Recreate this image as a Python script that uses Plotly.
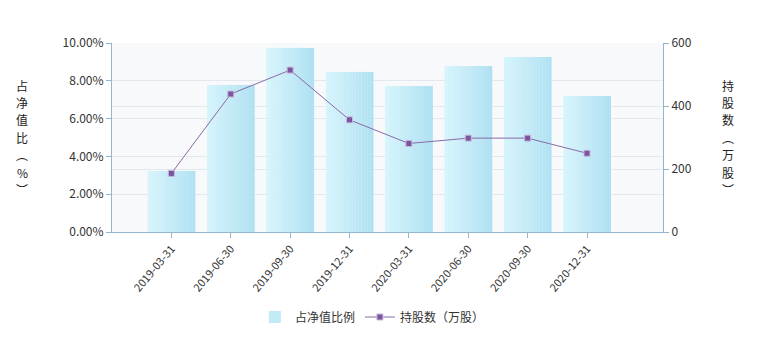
import plotly.graph_objects as go

categories = ["2019-03-31", "2019-06-30", "2019-09-30", "2019-12-31",
              "2020-03-31", "2020-06-30", "2020-09-30", "2020-12-31"]
pct_values = [3.23, 7.78, 9.74, 8.47, 7.72, 8.78, 9.26, 7.20]
shares_values = [186, 438, 514, 356, 281, 298, 298, 250]
left_ticks = [0, 2, 4, 6, 8, 10]
left_tick_labels = ["0.00%", "2.00%", "4.00%", "6.00%", "8.00%", "10.00%"]
right_ticks = [0, 200, 400, 600]
left_title = ["占", "净", "值", "比", "︵", "%", "︶"]
right_title = ["持", "股", "数", "︵", "万", "股", "︶"]

x_idx = list(range(len(categories)))

fig = go.Figure()

# Gradient bars built from vertical slices
N = 16
bar_w = 0.8
left_c = (214, 244, 252)
right_c = (176, 225, 242)
for i in range(N):
    t = i / (N - 1)
    c = tuple(round(left_c[k] + (right_c[k] - left_c[k]) * t) for k in range(3))
    fig.add_trace(go.Bar(
        x=x_idx, y=pct_values,
        width=bar_w / N + 0.004,
        offset=-bar_w / 2 + i * bar_w / N,
        marker=dict(color=f"rgb{c}", line=dict(width=0)),
        name="占净值比例", legendgroup="bar",
        showlegend=(i == N // 2),
        hoverinfo="skip" if i else None,
        yaxis="y",
    ))

fig.add_trace(go.Scatter(
    x=x_idx, y=shares_values, mode="lines+markers",
    name="持股数（万股）",
    line=dict(color="#8a6aa8", width=1),
    marker=dict(symbol="square", size=6, color="#7a549c",
                line=dict(color="#c9b8dc", width=1)),
    yaxis="y2",
))

axis_line = "#93b5cd"
grid = "#e3e8ef"
font_c = "#333333"
cjk = "Noto Sans CJK SC"

# stacked vertical axis titles, one character per annotation
plot_top, plot_h = 43, 189
step = 17.4
first_center = 85
annotations = []
for j, (lc, rc) in enumerate(zip(left_title, right_title)):
    ypix = first_center + j * step
    yp = (plot_top + plot_h - ypix) / plot_h
    annotations.append(dict(text=lc, x=0, xref="paper", xanchor="center", xshift=22 - 112,
                            y=yp, yref="paper", yanchor="middle", showarrow=False,
                            font=dict(size=12, color="#222", family=cjk)))
    annotations.append(dict(text=rc, x=1, xref="paper", xanchor="center", xshift=65,
                            y=yp, yref="paper", yanchor="middle", showarrow=False,
                            font=dict(size=12, color="#222", family=cjk)))

fig.update_layout(
    width=760, height=340,
    margin=dict(l=112, r=97, t=43, b=108, autoexpand=False),
    paper_bgcolor="white",
    plot_bgcolor="#f7f9fb",
    barmode="overlay",
    font=dict(family="Microsoft YaHei, Noto Sans CJK SC, sans-serif", size=12, color=font_c),
    xaxis=dict(
        tickmode="array", tickvals=x_idx, ticktext=categories,
        range=[-1.0, 8.28], tickangle=-50,
        showgrid=False, zeroline=False,
        showline=True, linecolor=axis_line, linewidth=1,
        ticks="outside", ticklen=5, tickcolor=axis_line,
        tickfont=dict(size=11, family="Microsoft YaHei, Noto Sans CJK SC, sans-serif"),
    ),
    yaxis=dict(
        range=[0, 10], tickvals=left_ticks, ticktext=left_tick_labels,
        showgrid=True, gridcolor=grid, zeroline=False,
        showline=True, linecolor=axis_line, linewidth=1,
        ticks="outside", ticklen=5, tickcolor=axis_line,
        tickfont=dict(size=12),
    ),
    yaxis2=dict(
        range=[0, 600], tickvals=right_ticks, overlaying="y", side="right",
        showgrid=True, gridcolor=grid, zeroline=False,
        showline=True, linecolor=axis_line, linewidth=1,
        ticks="outside", ticklen=5, tickcolor=axis_line,
        tickfont=dict(size=12),
    ),
    legend=dict(orientation="h", x=0.49, xanchor="center", xref="container",
                y=1 - 317 / 340, yanchor="middle", yref="container",
                font=dict(size=12), bgcolor="rgba(0,0,0,0)"),
    showlegend=True,
    annotations=annotations,
)

fig.write_html("out.html")
